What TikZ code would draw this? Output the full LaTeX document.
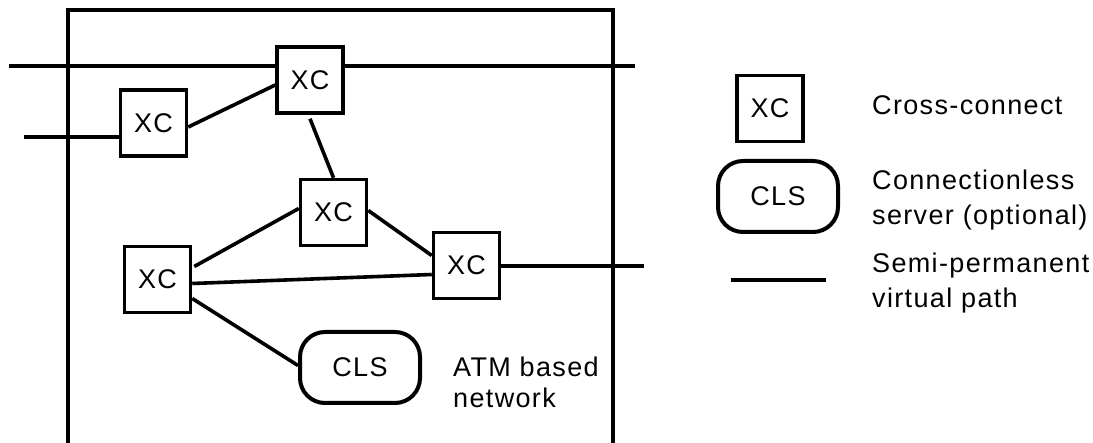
\documentclass[tikz,border=0pt]{standalone}
\usepackage{fontspec}
\setmainfont[LetterSpace=5]{Liberation Sans}
\usetikzlibrary{calc}
\begin{document}
\begin{tikzpicture}[x=1pt,y=-1pt,
  every node/.style={font=\fontsize{27}{35}\selectfont},
  xcbox/.style={draw,line width=3.5pt,minimum width=66pt,minimum height=66pt,inner sep=0pt,fill=white},
  clsbox/.style={draw,line width=4pt,rounded corners=25pt,minimum width=120pt,minimum height=71pt,inner sep=0pt,fill=white},
  link/.style={line width=3.6pt},
  lbl/.style={inner sep=0pt,align=left}]
\useasboundingbox (0,0) rectangle (1093,443);
% network boundary
\draw[line width=3.6pt] (68,443) -- (68,10) -- (613,10) -- (613,443);
% nodes
\node[xcbox] (xc1) at (310,80) {XC};
\node[xcbox] (xc2) at (153.5,123) {XC};
\node[xcbox] (xc3) at (333.5,212.5) {XC};
\node[xcbox] (xc4) at (157.5,279.5) {XC};
\node[xcbox] (xc5) at (466.5,265.5) {XC};
\node[clsbox] (cls) at (360,367.5) {CLS};
\node[lbl,anchor=north west,font=\fontsize{27}{31}\selectfont] (atm) at (453,357) {ATM based\\network};
% free ends
\coordinate (tl) at (9,66);
\coordinate (tr) at (635,66);
\coordinate (ml) at (24,137);
\coordinate (mr) at (644,266);
% connectors
\draw[link] (tl) -- (xc1.west |- tl);
\draw[link] (xc1.east |- tr) -- (tr);
\draw[link] (ml) -- (xc2.west |- ml);
\draw[link] ($(xc2.east)+(0,4)$) -- ($(xc1.west)+(0,5)$);
\draw[link] ($(xc1.south)+(0,4)$) -- (xc3.north);
\draw[link] ($(xc4.east)+(2,-13)$) -- ($(xc3.west)+(0,-4)$);
\draw[link] ($(xc4.east)+(0,4)$) -- ($(xc5.west)+(0,9)$);
\draw[link] ($(xc3.east)+(0,-2)$) -- ($(xc5.west)+(0,-10)$);
\draw[link] ($(xc4.east)+(0,19)$) -- ($(cls.west)+(0,-2)$);
\draw[link] (xc5.east |- mr) -- (mr);
% legend
\node[xcbox] (lxc) at (770,108.5) {XC};
\node[clsbox] (lcls) at (778,196.5) {CLS};
\coordinate (la) at (731,280);
\coordinate (lb) at (826,280);
\draw[link,line width=4pt] (la) -- (lb);
\node[lbl,anchor=base west] (t1) at (872,115) {Cross-connect};
\node[lbl,anchor=north west] (t2) at (872,170) {Connectionless\\server (optional)};
\node[lbl,anchor=north west] (t3) at (872,253) {Semi-permanent\\virtual path};
\end{tikzpicture}
\end{document}
